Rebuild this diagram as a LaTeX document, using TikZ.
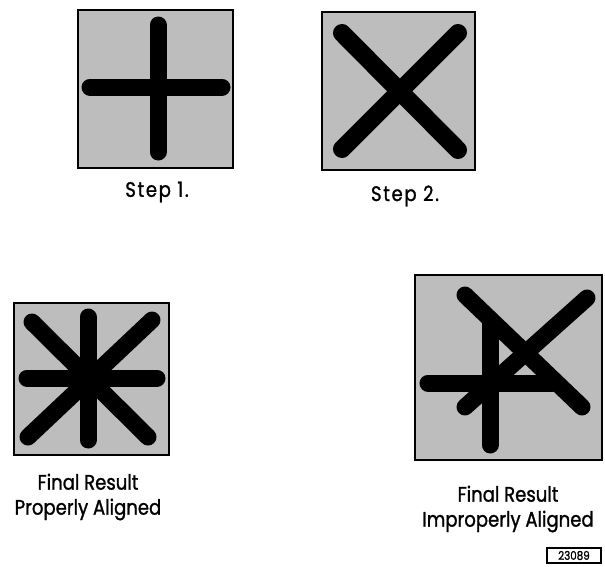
\documentclass[tikz,border=0pt]{standalone}
\usepackage{fontspec}
\setmainfont[FakeStretch=0.86,FakeBold=1.2]{Poppins}
\begin{document}
\begin{tikzpicture}[x=1pt,y=-1pt,
  panel/.style={draw=black,line width=2pt,fill=black!26},
  bar/.style={line width=17pt,line cap=round,black},
  lbl/.style={font=\fontsize{21}{25}\selectfont,align=center,inner sep=0pt},
  steplbl/.style={lbl,font=\fontsize{21}{25}\selectfont\addfontfeature{LetterSpace=8}},
  tag/.style={draw=black,line width=1.3pt,font=\fontsize{12}{14}\selectfont,minimum width=54pt,minimum height=15pt,inner sep=0pt}]
\useasboundingbox (0,0) rectangle (605,566);
% Step 1
\node[panel,minimum width=155pt,minimum height=158pt,inner sep=0pt] (p1) at (155.5,89) {};
\coordinate (p1t) at (158,25); \coordinate (p1b) at (158,152);
\coordinate (p1l) at (90,87); \coordinate (p1r) at (222,87);
\draw[bar] (p1t) -- (p1b);
\draw[bar] (p1l) -- (p1r);
\node[steplbl] (l1) at (157,192) {Step 1.};
% Step 2
\node[panel,minimum width=153pt,minimum height=158pt,inner sep=0pt] (p2) at (398.5,91) {};
\coordinate (p2a) at (342,33); \coordinate (p2b) at (458,150);
\coordinate (p2c) at (458,33); \coordinate (p2d) at (342,149);
\draw[bar,line width=18pt] (p2a) -- (p2b);
\draw[bar,line width=18pt] (p2c) -- (p2d);
\node[steplbl] (l2) at (405,196) {Step 2.};
% Properly aligned
\node[panel,minimum width=155pt,minimum height=152pt,inner sep=0pt] (p3) at (91.5,379) {};
\coordinate (s1) at (88,317); \coordinate (s2) at (88,440);
\coordinate (s3) at (27,378); \coordinate (s4) at (157,378);
\coordinate (s5) at (32,322); \coordinate (s6) at (148,437);
\coordinate (s7) at (152,320); \coordinate (s8) at (28,437);
\draw[bar] (s1) -- (s2);
\draw[bar] (s3) -- (s4);
\draw[bar] (s5) -- (s6);
\draw[bar] (s7) -- (s8);
\node[lbl] (l3) at (88,497) {Final Result\\Properly Aligned};
% Improperly aligned
\node[panel,minimum width=187pt,minimum height=185pt,inner sep=0pt] (p4) at (508.5,367.5) {};
\coordinate (q1) at (490,323); \coordinate (q2) at (490,445);
\coordinate (q3) at (428,383); \coordinate (q4) at (552,383);
\coordinate (q5) at (465,295); \coordinate (q6) at (582,407);
\coordinate (q7) at (587,298); \coordinate (q8) at (465,407);
\draw[bar] (q1) -- (q2);
\draw[bar] (q3) -- (q4);
\draw[bar] (q5) -- (q6);
\draw[bar] (q7) -- (q8);
\node[lbl] (l4) at (508,509) {Final Result\\Improperly Aligned};
% tag
\node[tag] (t) at (574,555.5) {23089};
\end{tikzpicture}
\end{document}
